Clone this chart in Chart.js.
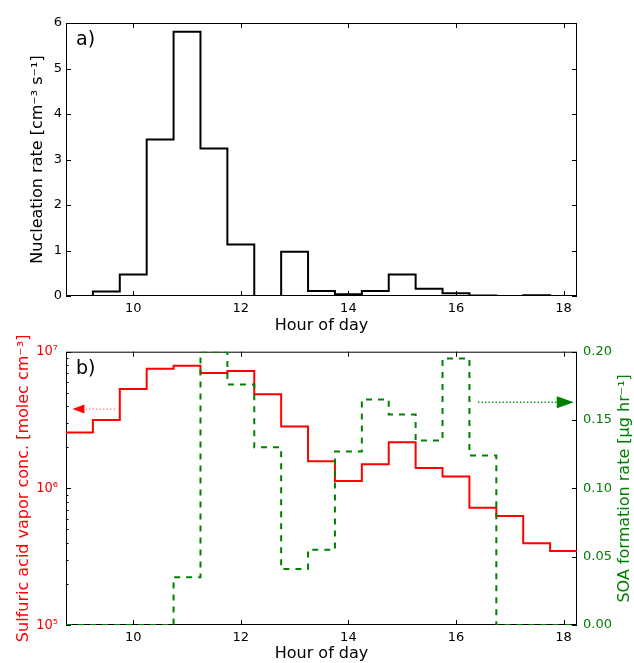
<!DOCTYPE html>
<html>
<head>
<meta charset="utf-8">
<script src="https://cdn.jsdelivr.net/npm/chart.js@4.4.1/dist/chart.umd.min.js"></script>
<style>
  body { margin: 0; background: #fff; }
  #wrap { position: relative; width: 634px; height: 663px; }
  canvas { position: absolute; left: 0; }
  #nucChart { top: 0; }
  #acidChart { top: 326px; }
</style>
</head>
<body>
<div id="wrap">
  <canvas id="nucChart" width="634" height="334"></canvas>
  <canvas id="acidChart" width="634" height="337"></canvas>
</div>
<script>
// centre of each half-hour bin (hour of day)
const hourOfDay = [9.0, 9.5, 10.0, 10.5, 11.0, 11.5, 12.0, 12.5, 13.0, 13.5, 14.0, 14.5, 15.0, 15.5, 16.0, 16.5, 17.0, 17.5, 18.0];

// a) nucleation rate [cm-3 s-1]
const nucleationRate = [0, 0.1, 0.47, 3.44, 5.81, 3.24, 1.13, 0, 0.97, 0.11, 0.04, 0.11, 0.47, 0.16, 0.06, 0.01, 0, 0.015, 0];

// b) sulfuric acid vapor conc. [molec cm-3] (left, log)
const sulfuricAcid = [2.56e6, 3.16e6, 5.33e6, 7.5e6, 7.9e6, 6.98e6, 7.22e6, 4.88e6, 2.83e6, 1.58e6, 1.13e6, 1.5e6, 2.17e6, 1.41e6, 1.22e6, 7.22e5, 6.28e5, 3.96e5, 3.48e5];

// b) SOA formation rate [ug hr-1] (right)
const soaRate = [0, 0, 0, 0, 0.035, 0.2, 0.176, 0.13, 0.041, 0.055, 0.127, 0.165, 0.154, 0.135, 0.195, 0.124, 0, 0, 0];

// ticks
const hourTicks = [10, 12, 14, 16, 18];
const nucTicks = [0, 1, 2, 3, 4, 5, 6];
const acidTicks = [1e5, 2e5, 3e5, 4e5, 5e5, 6e5, 7e5, 8e5, 9e5, 1e6, 2e6, 3e6, 4e6, 5e6, 6e6, 7e6, 8e6, 9e6, 1e7];
const soaTicks = [0, 0.05, 0.1, 0.15, 0.2];

// arrow annotations (data units)
const acidArrow = { from: 9.66, to: 8.87, at: 3.8e6 };
const soaArrow = { from: 16.41, to: 18.19, at: 0.163 };

const RED = '#ff0000';
const GREEN = '#008000';
const sup = { 5: '\u2075', 6: '\u2076', 7: '\u2077' };

Chart.defaults.font.family = "'DejaVu Sans', sans-serif";

const tickFont = { size: 13 };
const titleFont = { size: 16, lineHeight: 1 };
const noGrid = { display: false, drawTicks: false };

// half-hour bins -> step line from left bin edge to right bin edge
function stepPoints(values) {
  const pts = hourOfDay.map((h, i) => ({ x: h - 0.25, y: values[i] }));
  pts.push({ x: hourOfDay[hourOfDay.length - 1] + 0.25, y: values[values.length - 1] });
  return pts;
}

function setTicks(list) {
  return (s) => { s.ticks = list.map(v => ({ value: v })); };
}

function drawArrow(ctx, x0, x1, y, head, dots, len, half) {
  const dir = x1 > x0 ? 1 : -1;
  ctx.save();
  ctx.strokeStyle = dots;
  ctx.lineWidth = 1.3;
  ctx.setLineDash([1.3, 2.2]);
  ctx.beginPath();
  ctx.moveTo(x0, y);
  ctx.lineTo(x1 - dir * len, y);
  ctx.stroke();
  ctx.setLineDash([]);
  ctx.fillStyle = head;
  ctx.beginPath();
  ctx.moveTo(x1, y);
  ctx.lineTo(x1 - dir * len, y - half);
  ctx.lineTo(x1 - dir * len, y + half);
  ctx.closePath();
  ctx.fill();
  ctx.restore();
}

// matplotlib-ish frame, inward ticks, panel letter, extra annotations
const axesDecor = {
  id: 'axesDecor',
  beforeDatasetsDraw(chart) {
    const { ctx, chartArea: a } = chart;
    ctx.save();
    ctx.strokeStyle = '#000';
    ctx.lineWidth = 1;
    ctx.strokeRect(a.left + 0.5, a.top + 0.5, a.right - a.left - 1, a.bottom - a.top - 1);
    ctx.restore();
  },
  afterDatasetsDraw(chart, args, opts) {
    const { ctx, chartArea: a } = chart;
    ctx.save();
    ctx.strokeStyle = '#000';
    ctx.lineWidth = 1;
    Object.values(chart.scales).forEach(s => {
      s.ticks.forEach(t => {
        const len = t.label === '' ? 2.5 : 5;
        const p = Math.round(s.getPixelForValue(t.value)) + 0.5;
        ctx.beginPath();
        if (s.isHorizontal()) {
          ctx.moveTo(p, a.bottom); ctx.lineTo(p, a.bottom - len);
          ctx.moveTo(p, a.top); ctx.lineTo(p, a.top + len);
        } else if (s.position === 'left') {
          ctx.moveTo(a.left, p); ctx.lineTo(a.left + len, p);
          if (opts.mirrorY) { ctx.moveTo(a.right, p); ctx.lineTo(a.right - len, p); }
        } else {
          ctx.moveTo(a.right, p); ctx.lineTo(a.right - len, p);
        }
        ctx.stroke();
      });
    });

    ctx.fillStyle = '#000';
    ctx.font = "19px 'DejaVu Sans'";
    ctx.textBaseline = 'middle';
    ctx.fillText(opts.panel, a.left + 10, a.top + 17);

    if (opts.arrows) {
      const x = chart.scales.x, y = chart.scales.y, y2 = chart.scales.y2;
      drawArrow(ctx, x.getPixelForValue(acidArrow.from), x.getPixelForValue(acidArrow.to),
        y.getPixelForValue(acidArrow.at), RED, 'rgba(255,0,0,0.55)', 12, 4.5);
      drawArrow(ctx, x.getPixelForValue(soaArrow.from), x.getPixelForValue(soaArrow.to),
        y2.getPixelForValue(soaArrow.at), GREEN, GREEN, 17, 6);
    }

    if (opts.rightTitle) {
      ctx.save();
      ctx.translate(624.5, (a.top + a.bottom) / 2);
      ctx.rotate(-Math.PI / 2);
      ctx.fillStyle = GREEN;
      ctx.font = "16px 'DejaVu Sans'";
      ctx.textAlign = 'center';
      ctx.textBaseline = 'middle';
      ctx.fillText(opts.rightTitle, 0, 0);
      ctx.restore();
    }
    ctx.restore();
  }
};

const baseX = {
  type: 'linear',
  min: 8.75,
  max: 18.25,
  afterBuildTicks: setTicks(hourTicks),
  afterFit: s => { s.height = 38; },
  grid: noGrid,
  border: { display: false },
  ticks: { font: tickFont, color: '#000', padding: 5, maxRotation: 0, autoSkip: false },
  title: { display: true, text: 'Hour of day', font: titleFont, color: '#000', padding: { top: 0, bottom: 0 } }
};

// a) nucleation rate
new Chart(document.getElementById('nucChart'), {
  type: 'line',
  data: {
    datasets: [{
      data: stepPoints(nucleationRate),
      borderColor: '#000',
      borderWidth: 2,
      stepped: 'before',
      pointRadius: 0,
      fill: false
    }]
  },
  options: {
    responsive: false,
    animation: false,
    devicePixelRatio: 1,
    layout: { padding: { top: 23, right: 57, left: 0, bottom: 0 } },
    plugins: {
      legend: { display: false },
      tooltip: { enabled: false },
      axesDecor: { panel: 'a)', mirrorY: true }
    },
    scales: {
      x: baseX,
      y: {
        type: 'linear',
        min: 0,
        max: 6,
        afterBuildTicks: setTicks(nucTicks),
        afterFit: s => { s.width = 66; },
        grid: noGrid,
        border: { display: false },
        ticks: { font: tickFont, color: '#000', padding: 4, autoSkip: false },
        title: {
          display: true,
          text: 'Nucleation rate [cm\u207B\u00B3 s\u207B\u00B9]',
          font: titleFont,
          color: '#000',
          padding: { top: 29.5, bottom: 0 }
        }
      }
    }
  },
  plugins: [axesDecor]
});

// b) sulfuric acid vapour and SOA formation
new Chart(document.getElementById('acidChart'), {
  type: 'line',
  data: {
    datasets: [{
      data: stepPoints(soaRate),
      yAxisID: 'y2',
      borderColor: GREEN,
      borderWidth: 2,
      borderDash: [6, 6],
      stepped: 'before',
      pointRadius: 0,
      fill: false
    }, {
      data: stepPoints(sulfuricAcid),
      yAxisID: 'y',
      borderColor: RED,
      borderWidth: 2,
      stepped: 'before',
      pointRadius: 0,
      fill: false
    }]
  },
  options: {
    responsive: false,
    animation: false,
    devicePixelRatio: 1,
    layout: { padding: { top: 25.7, right: 0, left: 0, bottom: 0 } },
    plugins: {
      legend: { display: false },
      tooltip: { enabled: false },
      axesDecor: { panel: 'b)', arrows: true, rightTitle: 'SOA formation rate [\u03BCg hr\u207B\u00B9]' }
    },
    scales: {
      x: Object.assign({}, baseX, {
        title: Object.assign({}, baseX.title, { padding: { top: 0, bottom: 1 } })
      }),
      y: {
        type: 'logarithmic',
        position: 'left',
        min: 1e5,
        max: 1e7,
        afterBuildTicks: setTicks(acidTicks),
        afterFit: s => { s.width = 66; },
        grid: noGrid,
        border: { display: false },
        ticks: {
          font: { family: "'Liberation Sans Narrow', 'DejaVu Sans Condensed', sans-serif", size: 14.5 },
          color: RED,
          padding: 8,
          autoSkip: false,
          callback: v => {
            const e = Math.round(Math.log10(v));
            return Math.abs(Math.log10(v) - e) < 1e-9 ? '10' + sup[e] : '';
          }
        },
        title: {
          display: true,
          text: 'Sulfuric acid vapor conc. [molec cm\u207B\u00B3]',
          font: titleFont,
          color: RED,
          padding: { top: 15.5, bottom: 0 }
        }
      },
      y2: {
        type: 'linear',
        position: 'right',
        min: 0,
        max: 0.2,
        afterBuildTicks: setTicks(soaTicks),
        afterFit: s => { s.width = 57; },
        grid: noGrid,
        border: { display: false },
        ticks: { font: tickFont, color: GREEN, padding: 6, autoSkip: false, callback: v => v.toFixed(2) }
      }
    }
  },
  plugins: [axesDecor]
});
</script>
</body>
</html>
